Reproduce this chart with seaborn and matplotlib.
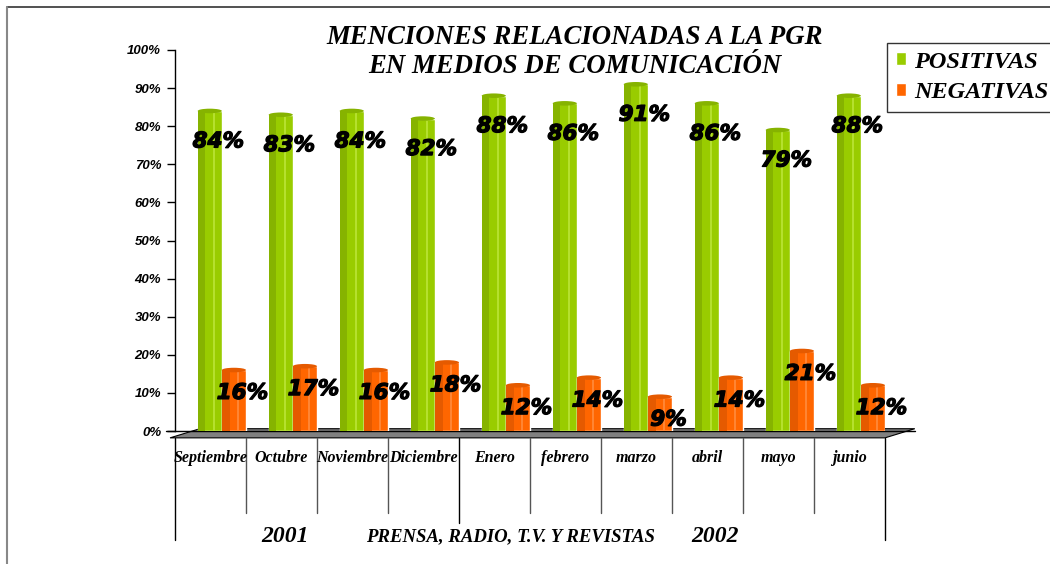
import pandas as pd
import seaborn as sns
import matplotlib.pyplot as plt
import matplotlib.patheffects as pe
from matplotlib.patches import Polygon, Rectangle, Ellipse
from matplotlib.lines import Line2D

meses = ['Septiembre', 'Octubre', 'Noviembre', 'Diciembre', 'Enero',
         'febrero', 'marzo', 'abril', 'mayo', 'junio']
positivas = [84, 83, 84, 82, 88, 86, 91, 86, 79, 88]
negativas = [16, 17, 16, 18, 12, 14, 9, 14, 21, 12]
series = ['POSITIVAS', 'NEGATIVAS']
yticks = [0, 10, 20, 30, 40, 50, 60, 70, 80, 90, 100]

verde = '#99CC00'
naranja = '#FF6600'
sombra = {'POSITIVAS': '#86B300', 'NEGATIVAS': '#E55A00'}
brillo = {'POSITIVAS': '#B5E02E', 'NEGATIVAS': '#FF8533'}

df = pd.DataFrame({
    'mes': meses * 2,
    'serie': [series[0]] * len(meses) + [series[1]] * len(meses),
    'valor': positivas + negativas,
})

sns.set_style('white')
plt.rcParams['font.family'] = ['Liberation Serif', 'DejaVu Serif']
plt.rcParams['text.color'] = 'black'
plt.rcParams['ytick.color'] = 'black'
plt.rcParams['ytick.labelcolor'] = 'black'

fig = plt.figure(figsize=(10.5, 5.64), dpi=100)
ax = fig.add_axes([175 / 1050, 1 - 431 / 564, 710 / 1050, 381 / 564])

sns.barplot(data=df, x='mes', y='valor', hue='serie', order=meses,
            hue_order=series, palette=[verde, naranja], width=0.68,
            saturation=1, ax=ax, legend=False)

ax.set_ylim(0, 100)
ax.set_xlim(-0.66, 9.34)
ax.set_xlabel('')
ax.set_ylabel('')
ax.set_xticks([])
ax.set_yticks(yticks)
ax.set_yticklabels([f'{t}%' for t in yticks], family='Liberation Sans',
                   weight='bold', style='italic', fontsize=9.5, color='black')
ax.tick_params(axis='y', length=6, width=1, color='black', pad=4, left=True)
for s in ['top', 'right', 'bottom']:
    ax.spines[s].set_visible(False)
ax.spines['left'].set_color('black')
ax.spines['left'].set_linewidth(1)

# piso gris
piso = Polygon([(-0.007, -0.018), (1.0, -0.018), (1.042, 0.006), (0.035, 0.006)],
               closed=True, transform=ax.transAxes, facecolor='#808080',
               edgecolor='black', linewidth=0.8, clip_on=False, zorder=1)
ax.add_patch(piso)
ax.add_line(Line2D([-0.012, 1.042], [0, 0], transform=ax.transAxes,
                   color='black', linewidth=1, clip_on=False, zorder=1.5))

# sombreado de las barras
for serie, cont in zip(series, ax.containers):
    for bar in cont:
        x, w, h = bar.get_x(), bar.get_width(), bar.get_height()
        bar.set_zorder(2)
        ax.add_patch(Rectangle((x, 0), w * 0.32, h, facecolor=sombra[serie],
                               edgecolor='none', zorder=2.1))
        ax.add_patch(Rectangle((x + w * 0.62, 0), w * 0.1, h,
                               facecolor=brillo[serie], edgecolor='none', zorder=2.1))
        ax.add_patch(Ellipse((x + w / 2, h), w, 1.2, facecolor=sombra[serie],
                             edgecolor='none', zorder=2.2))

# etiquetas de valores
grueso = [pe.withStroke(linewidth=0.9, foreground='black')]
for serie, cont, vals, off in zip(series, ax.containers, [positivas, negativas], [8, 6]):
    for bar, v in zip(cont, vals):
        ax.text(bar.get_x() + bar.get_width() / 2 + 0.12, v - off, f'{v}%',
                ha='center', va='center', fontsize=15.5, weight='bold',
                style='italic', family='DejaVu Sans', color='black', zorder=5,
                path_effects=grueso)

# tabla de meses
for k in range(len(meses) + 1):
    if k in (0, len(meses)):
        y_fin, col = -0.286, 'black'
    elif k == 4:
        y_fin, col = -0.241, 'black'
    else:
        y_fin, col = -0.215, '#555555'
    ax.add_line(Line2D([k / 10, k / 10], [-0.018, y_fin], transform=ax.transAxes,
                       color=col, linewidth=1, clip_on=False))
for k, m in enumerate(meses):
    ax.text((k + 0.5) / 10, -0.071, m, transform=ax.transAxes, ha='center',
            va='center', fontsize=11.5, weight='bold', style='italic', color='black')

fig.text(285 / 1050, 1 - 536 / 564, '2001', ha='center', va='center',
         fontsize=17, weight='bold', style='italic', color='black')
fig.text(510 / 1050, 1 - 537 / 564, 'PRENSA, RADIO, T.V. Y REVISTAS',
         ha='center', va='center', fontsize=13.5, weight='bold', style='italic',
         color='black')
fig.text(715 / 1050, 1 - 537 / 564, '2002', ha='center', va='center',
         fontsize=17, weight='bold', style='italic', color='black')

fig.text(575 / 1050, 1 - 52 / 564,
         'MENCIONES RELACIONADAS A LA PGR\nEN MEDIOS DE COMUNICACIÓN',
         ha='center', va='center', fontsize=19.3, weight='bold', style='italic',
         linespacing=1.2, color='black')

handles = [Rectangle((0, 0), 1, 1, facecolor=c) for c in [verde, naranja]]
leg = fig.legend(handles, series, loc='upper left',
                 bbox_to_anchor=(887 / 1050, 1 - 43 / 564),
                 frameon=True, fancybox=False, edgecolor='black',
                 handlelength=0.45, handleheight=0.45, handletextpad=0.3,
                 borderpad=0.35, labelspacing=0.4, borderaxespad=0,
                 prop={'family': 'Liberation Serif', 'weight': 'bold',
                       'style': 'italic', 'size': 17.5})
leg.get_frame().set_linewidth(1)
for t in leg.get_texts():
    t.set_color('black')
    t.set_fontweight('bold')
    t.set_fontstyle('italic')

# marco de la figura
fig.add_artist(Line2D([7 / 1050, 1], [1 - 7 / 564, 1 - 7 / 564],
                      transform=fig.transFigure, color='#333333', linewidth=1.2))
fig.add_artist(Line2D([7 / 1050, 7 / 1050], [0, 1 - 7 / 564],
                      transform=fig.transFigure, color='#888888', linewidth=1.5))

fig.savefig('out.png', dpi=100)
